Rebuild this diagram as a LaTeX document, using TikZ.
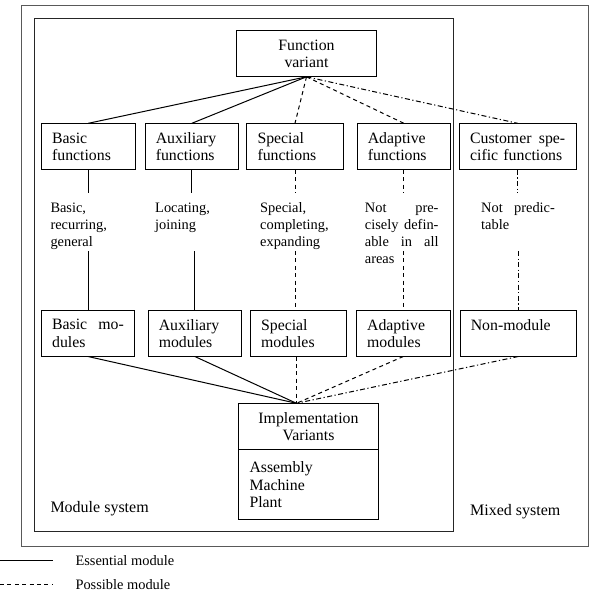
\documentclass[tikz,border=0pt]{standalone}
\usepackage{fontspec}
\setmainfont{Liberation Serif}
\usepackage{tikz}

\newcommand{\boxfont}{\fontsize{15.8}{17.3}\selectfont}
\newcommand{\tagfont}{\fontsize{14.4}{17}\selectfont}
\newcommand{\sysfont}{\fontsize{16}{18}\selectfont}

\begin{document}
\begin{tikzpicture}[x=1pt,y=-1pt]
      \tikzstyle{boite}=[draw, line width=1pt, anchor=north west, outer sep=0pt, inner xsep=10.8pt, inner ysep=0pt, minimum height=46.5pt, align=left, font=\boxfont]
      \tikzstyle{tag}=[anchor=base west, inner sep=0pt, text width=75pt, align=left, font=\tagfont]
      \tikzstyle{essential}=[line width=1pt]
      \tikzstyle{possible}=[line width=1pt, dash pattern=on 4pt off 3.4pt]
      \tikzstyle{custom}=[line width=1pt, dash pattern=on 5pt off 2.5pt on 1.2pt off 2.5pt]

      \useasboundingbox (0,0) rectangle (596,602);
      % frames
      \draw[line width=1pt, black!65] (21,6) rectangle (588.5,546.5);
      \draw[line width=1pt, black!85] (34,19) rectangle (453.3,531);

      \node[boite, text width=118.8pt, align=center] (Fvar) at (236.3,30.3) {Function\\variant};
      \node[boite, text width=72.4pt] (Basf) at (41.3,123.3) {Basic\\functions};
      \node[boite, text width=72.1pt] (Auxf) at (145,123.3) {Auxiliary\\functions};
      \node[boite, text width=75pt] (Spef) at (246.7,123.3) {Special\\functions};
      \node[boite, text width=72.1pt] (Adaf) at (357,123.3) {Adaptive\\functions};
      \node[boite, text width=95.1pt] (Cusf) at (459.3,123.3) {Customer\hfill spe-\\cific functions};

      \node[tag] (Basl) at (50.3,212.5) {Basic,\\recurring,\\general};
      \node[tag] (Auxl) at (155,212.5) {Locating,\\joining};
      \node[tag] (Spel) at (260,212.5) {Special,\\completing,\\expanding};
      \node[tag, text width=73.6pt] (Adal) at (364.7,212.5) {Not\hfill pre-\\cisely\hfill defin-\\able\hfill in\hfill all\\areas};
      \node[tag, text width=73.7pt] (Cusl) at (481,212.5) {Not\hfill predic-\\table};

      \node[boite, text width=71.8pt] (Basm) at (41.3,310) {Basic\hfill mo-\\dules};
      \node[boite, text width=72.1pt] (Auxm) at (148,310) {Auxiliary\\modules};
      \node[boite, text width=74.8pt] (Spem) at (250.3,310) {Special\\modules};
      \node[boite, text width=72.4pt] (Adam) at (356.3,310) {Adaptive\\modules};
      \node[boite, text width=95.1pt] (Nonm) at (460,310) {Non-module\\\mbox{}};

      \node[boite, text width=118pt, align=center] (Impl) at (238.7,403.3) {Implementation\\Variants};
      \node[boite, text width=118pt, minimum height=69.7pt] (Impv) at (Impl.south west) {Assembly\\Machine\\Plant};

      \node[anchor=base west, inner sep=0pt, font=\sysfont] (Msys) at (50.3,512.3) {Module system};
      \node[anchor=base west, inner sep=0pt, font=\sysfont] (Xsys) at (470,515) {Mixed system};

      \coordinate (Gtop) at (0,193);
      \coordinate (Gbot) at (0,251);
      \coordinate (Iapex) at (296.5,403.3);

      \draw[essential] (Fvar.south)--(Basf.north);
      \draw[essential] (Fvar.south)--(Auxf.north);
      \draw[possible] (Fvar.south)--(Spef.north);
      \draw[possible] (Fvar.south)--(Adaf.north);
      \draw[custom] (Fvar.south)--(Cusf.north);

      \draw[essential] (Basf.south)--(Basf.south |- Gtop);
      \draw[essential] (Auxf.south)--(Auxf.south |- Gtop);
      \draw[possible] (Spef.south)--(Spef.south |- Gtop);
      \draw[possible] (Adaf.south)--(Adaf.south |- Gtop);
      \draw[custom] (Cusf.south)--(Cusf.south |- Gtop);

      \draw[essential] (Basm.north |- Gbot)--(Basm.north);
      \draw[essential] (Auxm.north |- Gbot)--(Auxm.north);
      \draw[possible] (Spef.south |- Gbot)--(Spef.south |- Spem.north);
      \draw[possible] (Adam.north |- Gbot)--(Adam.north);
      \draw[custom] (Nonm.north |- Gbot)--(Nonm.north);

      \draw[essential] (Basm.south)--(Iapex);
      \draw[essential] (Auxm.south)--(Iapex);
      \draw[possible] (Spem.south -| Iapex)--(Iapex);
      \draw[possible] (Adam.south)--(Iapex);
      \draw[custom] (Nonm.south)--(Iapex);

      % legend
      \coordinate (Ea) at (0,560);
      \coordinate (Eb) at (53.3,560);
      \coordinate (Pa) at (0,584);
      \coordinate (Pb) at (53.3,584);
      \draw[essential] (Ea)--(Eb);
      \draw[possible] (Pa)--(Pb);
      \node[anchor=base west, inner sep=0pt, font=\tagfont] (Ess) at (75.3,565.7) {Essential module};
      \node[anchor=base west, inner sep=0pt, font=\tagfont] (Pos) at (75.3,589.5) {Possible module};

    \end{tikzpicture}
\end{document}
